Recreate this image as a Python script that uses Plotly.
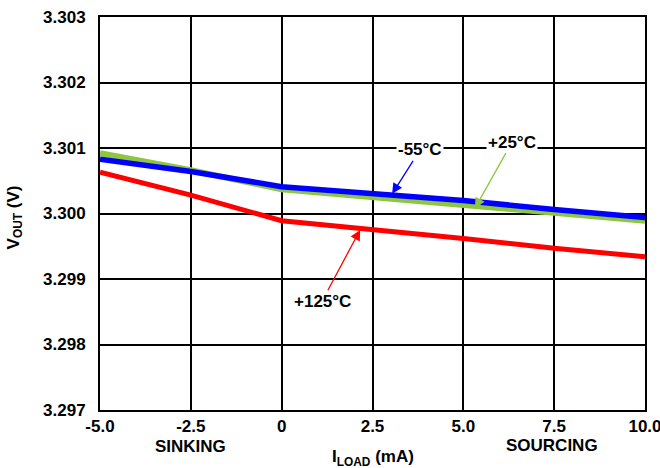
import plotly.graph_objects as go

i_load = [-5.0, -2.5, 0.0, 2.5, 5.0, 7.5, 10.0]
v_m55 = [3.30083, 3.30064, 3.30041, 3.30031, 3.30020, 3.30006, 3.29994]
v_p25 = [3.30092, 3.30066, 3.30037, 3.30025, 3.30013, 3.30001, 3.29989]
v_p125 = [3.30063, 3.30028, 3.29989, 3.29976, 3.29962, 3.29947, 3.29934]

x_ticks = [-5.0, -2.5, 0.0, 2.5, 5.0, 7.5, 10.0]
x_labels = ["-5.0", "-2.5", "0", "2.5", "5.0", "7.5", "10.0"]
y_ticks = [3.297, 3.298, 3.299, 3.300, 3.301, 3.302, 3.303]
y_labels = ["3.297", "3.298", "3.299", "3.300", "3.301", "3.302", "3.303"]

FONT = "Liberation Sans, Arial, sans-serif"
GREEN = "#8DC63F"
FS = 17

fig = go.Figure()
fig.add_trace(go.Scatter(x=i_load, y=v_p25, mode="lines", line=dict(color=GREEN, width=6), showlegend=False))
fig.add_trace(go.Scatter(x=i_load, y=v_m55, mode="lines", line=dict(color="#0000FF", width=5.5), showlegend=False))
fig.add_trace(go.Scatter(x=i_load, y=v_p125, mode="lines", line=dict(color="#FF0000", width=5), showlegend=False))

axis_common = dict(showgrid=True, gridcolor="black", gridwidth=2, showline=True, linecolor="black",
                   linewidth=2, mirror=True, zeroline=False, ticks="", automargin=False,
                   ticklabeloverflow="allow",
                   tickfont=dict(family=FONT, size=FS, color="black"))
fig.update_xaxes(range=[-5, 10], tickvals=x_ticks, ticktext=["<b>%s</b>" % t for t in x_labels],
                 ticklabelstandoff=0, **axis_common)
fig.update_yaxes(range=[3.297, 3.303], tickvals=y_ticks, ticktext=["<b>%s</b>" % t for t in y_labels],
                 ticklabelstandoff=9, **axis_common)

def callout(hx, hy, tx, ty, t, color):
    fig.add_annotation(x=hx, y=hy, ax=tx, ay=ty, xref="x", yref="y", axref="x", ayref="y",
                       text="<b>%s</b>" % t, showarrow=True, arrowhead=2, arrowsize=1.6,
                       arrowwidth=1.3, arrowcolor=color, bgcolor="white", borderpad=1,
                       font=dict(family=FONT, size=FS, color="black"))

callout(3.04, 3.30030, 3.81, 3.30097, "-55°C", "#0000FF")
callout(5.32, 3.30008, 6.34, 3.30109, "+25°C", GREEN)
callout(2.16, 3.29975, 1.11, 3.29866, "+125°C", "#FF0000")

fig.add_annotation(xref="paper", yref="paper", x=-0.156, y=0.49, textangle=-90, showarrow=False,
                   xanchor="center", yanchor="middle",
                   text="<b>V<sub>OUT</sub> (V)</b>", font=dict(family=FONT, size=FS, color="black"))
fig.add_annotation(xref="x", yref="paper", x=2.5, y=-0.122, showarrow=False, yanchor="middle",
                   text="<b>I<sub>LOAD</sub> (mA)</b>", font=dict(family=FONT, size=FS, color="black"))
fig.add_annotation(xref="x", yref="paper", x=-2.5, y=-0.094, showarrow=False, yanchor="middle",
                   text="<b>SINKING</b>", font=dict(family=FONT, size=FS, color="black"))
fig.add_annotation(xref="x", yref="paper", x=7.45, y=-0.090, showarrow=False, yanchor="middle",
                   text="<b>SOURCING</b>", font=dict(family=FONT, size=FS, color="black"))

fig.update_layout(width=660, height=468, margin=dict(l=100, r=15, t=17, b=58),
                  paper_bgcolor="white", plot_bgcolor="white",
                  font=dict(family=FONT, color="black"))

fig.write_html("out.html")
